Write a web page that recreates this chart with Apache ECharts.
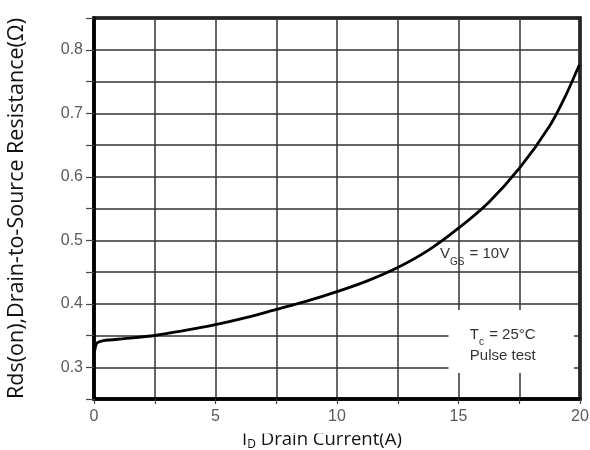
<!DOCTYPE html>
<html>
<head>
<meta charset="utf-8">
<script src="https://cdn.jsdelivr.net/npm/echarts@6/dist/echarts.min.js"></script>
<style>html,body{margin:0;padding:0;background:#fff;}#c{width:590px;height:450px;}</style>
</head>
<body>
<div id="c"></div>
<script>
// Drain current (A)
const currentA = [0.03, 0.12, 0.4, 1.25, 2.5, 3.75, 5.0, 6.25, 7.5, 8.75, 10.0, 11.25, 12.5, 13.75, 15.0, 16.25, 17.5, 18.75, 19.4, 19.97];
// Rds(on) (Ohm)
const rdsOhm = [0.326, 0.338, 0.342, 0.345, 0.350, 0.358, 0.367, 0.378, 0.391, 0.404, 0.419, 0.436, 0.457, 0.484, 0.519, 0.560, 0.613, 0.680, 0.727, 0.776];
const xTickLabels = [0, 5, 10, 15, 20];
const yTickLabels = [0.3, 0.4, 0.5, 0.6, 0.7, 0.8];
const vgsLabelPos = [15.66, 0.478];
const noteTextPos = [16.82, 0.335];
const noteBox = [[14.59, 0.291], [19.75, 0.390]];

const chart = echarts.init(document.getElementById('c'));
const gridLine = { show: true, lineStyle: { color: '#333', width: 1.5 } };
const labelFont = 'Liberation Sans, Arial';
chart.setOption({
  animation: false,
  backgroundColor: '#fff',
  grid: { left: 94, right: 10, top: 18, bottom: 51, containLabel: false, outerBoundsMode: 'none', show: true, borderColor: '#000', borderWidth: 3.5, backgroundColor: 'transparent' },
  graphic: [{
    type: 'rect', z: 100, silent: true,
    shape: { x: 225, y: 421, width: 200, height: 12.5 },
    style: { fill: '#fff' }
  }],
  xAxis: {
    type: 'value', min: 0, max: 20, interval: 2.5,
    axisLine: { show: true, lineStyle: { color: '#000', width: 3.5 } },
    axisTick: { show: true, length: 5, lineStyle: { color: '#444', width: 1.2 } },
    splitLine: gridLine,
    axisLabel: {
      color: '#5a5a5a', fontFamily: labelFont, fontSize: 16, margin: 10,
      formatter: v => xTickLabels.includes(v) ? String(v) : ''
    },
    name: '{n|I}{s|D}{n| Drain Current(A)}', nameLocation: 'middle', nameGap: 27,
    nameTextStyle: {
      padding: [0, 30, 0, 0],
      rich: {
        n: { fontFamily: 'Open Sans', fontSize: 18.5, color: '#111', lineHeight: 22, verticalAlign: 'bottom' },
        s: { fontFamily: 'Open Sans', fontSize: 12, color: '#111', lineHeight: 22, verticalAlign: 'bottom', padding: [0, 0, -2, 0] }
      }
    }
  },
  yAxis: {
    type: 'value', min: 0.25, max: 0.85, interval: 0.05,
    axisLine: { show: true, lineStyle: { color: '#000', width: 3.5 } },
    axisTick: { show: true, length: 8, lineStyle: { color: '#444', width: 1.2 } },
    splitLine: gridLine,
    axisLabel: {
      color: '#5a5a5a', fontFamily: labelFont, fontSize: 16, margin: 11,
      formatter: v => yTickLabels.some(t => Math.abs(t - v) < 1e-6) ? v.toFixed(1) : ''
    },
    name: 'Rds(on),Drain-to-Source Resistance(Ω)', nameLocation: 'middle', nameGap: 65,
    nameTextStyle: { fontFamily: 'Open Sans', fontSize: 21.5, lineHeight: 24, color: '#111' }
  },
  series: [{
    type: 'line',
    data: currentA.map((x, i) => [x, rdsOhm[i]]),
    showSymbol: false, smooth: 0.25,
    lineStyle: { color: '#000', width: 2.8 },
    markArea: {
      silent: true,
      itemStyle: { color: '#fff' },
      label: { show: false },
      data: [[{ coord: noteBox[0] }, { coord: noteBox[1] }]]
    },
    markPoint: {
      silent: true, symbol: 'rect', symbolSize: 1, itemStyle: { color: 'transparent' },
      data: [{
        coord: vgsLabelPos,
        label: {
          show: true, position: 'inside',
          formatter: '{t|V}{s|GS}{t| = 10V}',
          rich: {
            t: { fontFamily: labelFont, fontSize: 15, color: '#333', lineHeight: 18 },
            s: { fontFamily: labelFont, fontSize: 10, color: '#333', lineHeight: 18, verticalAlign: 'bottom', padding: [0, 1, -4, 0] }
          }
        }
      }, {
        coord: noteTextPos,
        label: {
          show: true, position: 'inside',
          formatter: '{t|T}{s|c}{t| = 25°C}\n{t|Pulse test}',
          rich: {
            t: { fontFamily: labelFont, fontSize: 15, color: '#333', lineHeight: 21 },
            s: { fontFamily: labelFont, fontSize: 10, color: '#333', lineHeight: 21, verticalAlign: 'bottom', padding: [0, 1, -2, 0] }
          }
        }
      }]
    }
  }]
});
</script>
</body>
</html>
